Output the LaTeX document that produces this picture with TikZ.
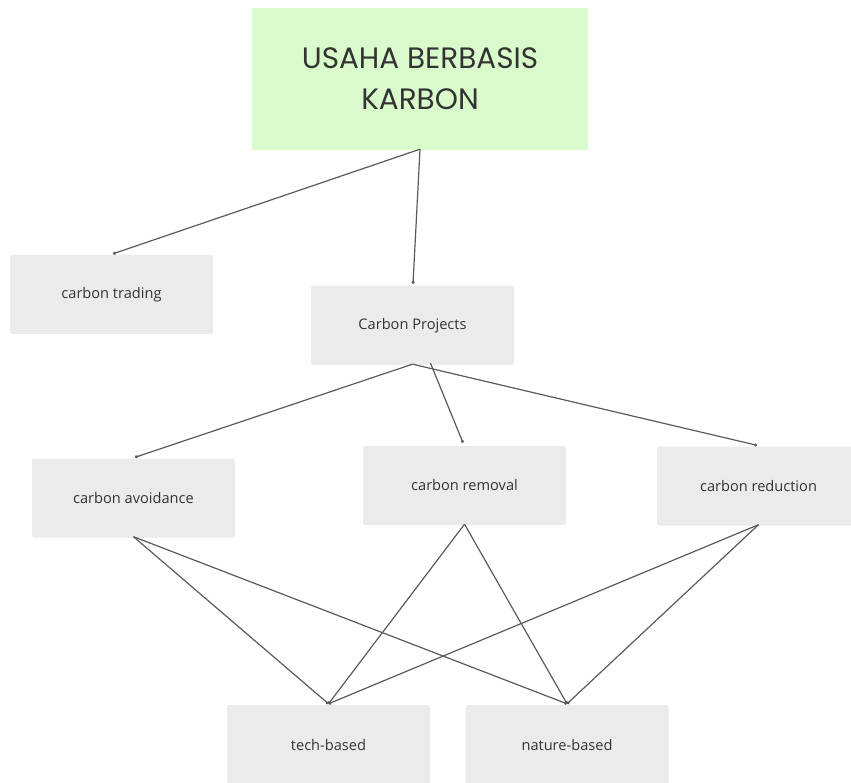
\documentclass[tikz,border=0pt]{standalone}
\usepackage{fontspec}
\setmainfont{Open Sans}
\newfontfamily\titlefont{Poppins}
\usetikzlibrary{arrows.meta}
\definecolor{titlegreen}{HTML}{D9FBCB}
\definecolor{boxgrey}{HTML}{EBEBEB}
\definecolor{linegrey}{HTML}{5A5A5A}
\definecolor{textgrey}{HTML}{333333}
\tikzset{
  x=1pt, y=-1pt,
  titlebox/.style={fill=titlegreen, minimum width=336pt, minimum height=142pt,
    align=center, font=\titlefont\fontsize{29.5}{41}\selectfont, text=textgrey, inner sep=0pt},
  topicbox/.style={fill=boxgrey, rounded corners=2pt, minimum width=203pt, minimum height=79pt,
    font=\fontsize{14.6}{17}\selectfont, text=textgrey, inner sep=0pt},
  link/.style={draw=linegrey, line width=1.2pt, -{Circle[length=3pt]}},
}
\begin{document}
\begin{tikzpicture}
\useasboundingbox (0,0) rectangle (851,783);
% boxes
\node[titlebox] (root) at (420,79) {USAHA BERBASIS\\KARBON};
\node[topicbox] (trade) at (111.5,294.5) {carbon trading};
\node[topicbox] (proj) at (412.5,325.5) {Carbon Projects};
\node[topicbox] (avoid) at (133.5,498) {carbon avoidance};
\node[topicbox] (remov) at (464.5,485.5) {carbon removal};
\node[topicbox] (reduc) at (758.5,486) {carbon reduction};
\node[topicbox, minimum height=80pt] (tech) at (328.5,745) {tech-based};
\node[topicbox, minimum height=80pt] (nature) at (567,745) {nature-based};
% level 1
\draw[link] ([yshift=1pt]root.south) -- ([xshift=1.5pt,yshift=1pt]trade.north);
\draw[link] ([yshift=1pt]root.south) -- ([xshift=0.5pt,yshift=2pt]proj.north);
% level 2
\draw[link] ([yshift=1pt]proj.south) -- ([xshift=1.5pt,yshift=1pt]avoid.north);
\draw[link] ([xshift=18pt,yshift=2pt]proj.south) -- ([xshift=-1.5pt,yshift=3pt]remov.north);
\draw[link] ([yshift=1pt]proj.south) -- ([xshift=-1.5pt,yshift=1pt]reduc.north);
% level 3
\draw[link] ([yshift=1pt]avoid.south) -- ([yshift=1pt]tech.north);
\draw[link] ([yshift=1pt]avoid.south) -- ([yshift=1pt]nature.north);
\draw[link] ([yshift=1pt]remov.south) -- ([yshift=1pt]tech.north);
\draw[link] ([yshift=1pt]remov.south) -- ([yshift=1pt]nature.north);
\draw[link] ([yshift=1pt]reduc.south) -- ([yshift=1pt]tech.north);
\draw[link] ([yshift=1pt]reduc.south) -- ([yshift=1pt]nature.north);
\end{tikzpicture}
\end{document}
